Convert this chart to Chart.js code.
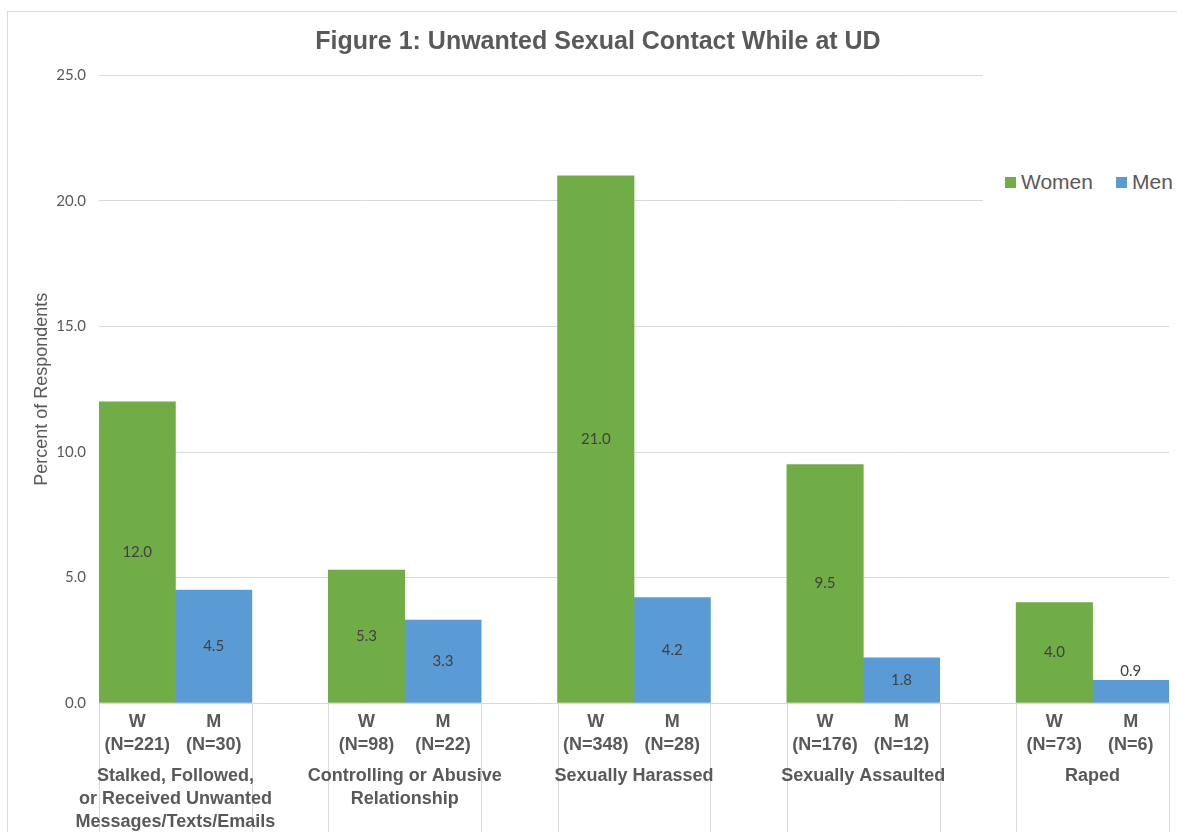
<!DOCTYPE html>
<html>
<head>
<meta charset="utf-8">
<title>Figure 1: Unwanted Sexual Contact While at UD</title>
<script src="https://cdn.jsdelivr.net/npm/chart.js@4.4.1/dist/chart.umd.min.js"></script>
<style>
    html, body { margin: 0; padding: 0; background: #fff; width: 1177px; height: 832px; overflow: hidden; }
    #frame { position: absolute; left: 7px; top: 11px; width: 1300px; height: 900px;
             border-left: 1px solid #d9d9d9; border-top: 1px solid #d9d9d9; }
    #wrap { position: absolute; left: 0; top: 0; width: 1199px; height: 840px; }
    #legend { position: absolute; left: 983px; top: 60px; width: 230px; height: 250px; background: #fff;
              font-family: "Liberation Sans", Arial, sans-serif; font-size: 21px; color: #595959; }
    #legend .item { position: absolute; top: 122px; transform: translateY(-50%); white-space: nowrap; display: flex; align-items: center; }
    #legend .box { display: inline-block; width: 11px; height: 11px; margin-right: 5px; }
</style>
</head>
<body>
<div id="frame"></div>
<div id="wrap"><canvas id="chart" width="1199" height="840"></canvas></div>
<div id="legend"></div>
<script>
// Datos
const groupNames = [
    ['Stalked, Followed,', 'or Received Unwanted', 'Messages/Texts/Emails'],
    ['Controlling or Abusive', 'Relationship'],
    ['Sexually Harassed'],
    ['Sexually Assaulted'],
    ['Raped']
];
const seriesNames = ['Women', 'Men'];
const womenPct = [12.0, 5.3, 21.0, 9.5, 4.0];
const menPct = [4.5, 3.3, 4.2, 1.8, 0.9];
const womenN = [221, 98, 348, 176, 73];
const menN = [30, 22, 28, 12, 6];
const yTicks = [0, 5, 10, 15, 20, 25];

const GREEN = '#70AD47';
const BLUE = '#5B9BD5';
const GRAY_TEXT = '#595959';
const GRID = '#d9d9d9';

document.addEventListener('DOMContentLoaded', () => {
    // Construir las posiciones: W, M y un hueco entre grupos
    const slotLabels = [];
    const womenData = [];
    const menData = [];
    const groupCenters = [];
    const separators = [];
    groupNames.forEach((g, i) => {
        if (i > 0) {
            slotLabels.push('');
            womenData.push(null);
            menData.push(null);
        }
        const wSlot = slotLabels.length;
        slotLabels.push(['W', `(N=${womenN[i]})`]);
        womenData.push(womenPct[i]);
        menData.push(null);
        slotLabels.push(['M', `(N=${menN[i]})`]);
        womenData.push(null);
        menData.push(menPct[i]);
        groupCenters.push(wSlot + 0.5);
        separators.push(wSlot - 0.5, wSlot + 1.5);
    });
    const slotMin = -0.5;
    const slotMax = slotLabels.length - 0.5;

    // Líneas verticales bajo el eje que separan los grupos (detrás del texto)
    const separatorPlugin = {
        id: 'separators',
        beforeDraw(chart) {
            const { ctx, chartArea } = chart;
            const xScale = chart.scales.x;
            ctx.save();
            ctx.strokeStyle = GRID;
            ctx.lineWidth = 1;
            separators.forEach(b => {
                const px = Math.round(xScale.getPixelForValue(b)) + 0.5;
                ctx.beginPath();
                ctx.moveTo(px, chartArea.bottom);
                ctx.lineTo(px, chart.height);
                ctx.stroke();
            });
            ctx.restore();
        }
    };

    // Etiquetas de valor dentro de cada barra
    const valueLabelPlugin = {
        id: 'valueLabels',
        afterDatasetsDraw(chart) {
            const { ctx } = chart;
            ctx.save();
            ctx.font = '15px Lato, "Open Sans", sans-serif';
            ctx.fillStyle = '#404040';
            ctx.textAlign = 'center';
            ctx.textBaseline = 'middle';
            chart.data.datasets.forEach((ds, di) => {
                const meta = chart.getDatasetMeta(di);
                meta.data.forEach((bar, i) => {
                    const v = ds.data[i];
                    if (v === null || v === undefined) return;
                    const h = bar.base - bar.y;
                    const y = h < 26 ? bar.y - 9 : (bar.y + bar.base) / 2;
                    ctx.fillText(v.toFixed(1), bar.x, y);
                });
            });
            ctx.restore();
        }
    };

    const ctx = document.getElementById('chart').getContext('2d');
    const chart = new Chart(ctx, {
        type: 'bar',
        data: {
            labels: slotLabels,
            datasets: [
                { label: seriesNames[0], data: womenData, backgroundColor: GREEN },
                { label: seriesNames[1], data: menData, backgroundColor: BLUE }
            ]
        },
        options: {
            responsive: false,
            animation: false,
            layout: { padding: { left: 27, right: 30, top: 0, bottom: 3 } },
            datasets: {
                bar: { grouped: false, barPercentage: 1, categoryPercentage: 1, borderWidth: 0 }
            },
            plugins: {
                legend: { display: false },
                tooltip: { enabled: false },
                title: {
                    display: true,
                    text: 'Figure 1: Unwanted Sexual Contact While at UD',
                    color: GRAY_TEXT,
                    font: { family: '"Liberation Sans", Arial, sans-serif', size: 25, weight: 'bold' },
                    padding: { top: 27, bottom: 18.5 }
                }
            },
            scales: {
                x: {
                    type: 'category',
                    position: 'bottom',
                    weight: 0,
                    grid: { display: false, drawTicks: false, tickLength: 0 },
                    border: { display: true, color: GRID, width: 1 },
                    ticks: {
                        color: GRAY_TEXT,
                        padding: 7.5,
                        autoSkip: false,
                        maxRotation: 0,
                        minRotation: 0,
                        font: { family: '"Liberation Sans", Arial, sans-serif', size: 18, weight: 'bold', lineHeight: 23 / 18 }
                    },
                    afterFit: (scale) => { scale.height = 54; }
                },
                groups: {
                    type: 'linear',
                    position: 'bottom',
                    weight: 1,
                    offset: false,
                    bounds: 'data',
                    min: slotMin,
                    max: slotMax,
                    afterBuildTicks: (scale) => {
                        scale.ticks = groupCenters.map(v => ({ value: v }));
                        scale.min = slotMin;
                        scale.max = slotMax;
                    },
                    grid: { display: false, drawTicks: false, offset: false },
                    border: { display: false },
                    ticks: {
                        color: GRAY_TEXT,
                        padding: 8,
                        autoSkip: false,
                        maxRotation: 0,
                        minRotation: 0,
                        font: { family: '"Liberation Sans", Arial, sans-serif', size: 18, weight: 'bold', lineHeight: 23 / 18 },
                        callback: (value, index) => groupNames[index]
                    },
                    afterFit: (scale) => { scale.height = 80; }
                },
                y: {
                    min: 0,
                    max: 25,
                    afterBuildTicks: (scale) => {
                        scale.ticks = yTicks.map(v => ({ value: v }));
                    },
                    grid: { color: GRID, lineWidth: 1, drawTicks: false },
                    border: { display: false },
                    ticks: {
                        color: GRAY_TEXT,
                        padding: 13,
                        font: { family: 'Lato, "Open Sans", sans-serif', size: 15 },
                        callback: (v) => Number(v).toFixed(1)
                    },
                    title: {
                        display: true,
                        text: 'Percent of Respondents',
                        color: GRAY_TEXT,
                        font: { family: '"Liberation Sans", Arial, sans-serif', size: 18 },
                        padding: { top: 4, bottom: 4 }
                    },
                    afterFit: (scale) => { scale.width = 72; }
                }
            }
        },
        plugins: [separatorPlugin, valueLabelPlugin]
    });

    // Leyenda en HTML, con fondo blanco como en la figura original
    const legendEl = document.getElementById('legend');
    const legendLefts = [22, 133];
    chart.data.datasets.forEach((ds, i) => {
        const item = document.createElement('span');
        item.className = 'item';
        item.style.left = legendLefts[i] + 'px';
        item.innerHTML = `<span class="box" style="background:${ds.backgroundColor}"></span>${ds.label}`;
        legendEl.appendChild(item);
    });
});
</script>
</body>
</html>
